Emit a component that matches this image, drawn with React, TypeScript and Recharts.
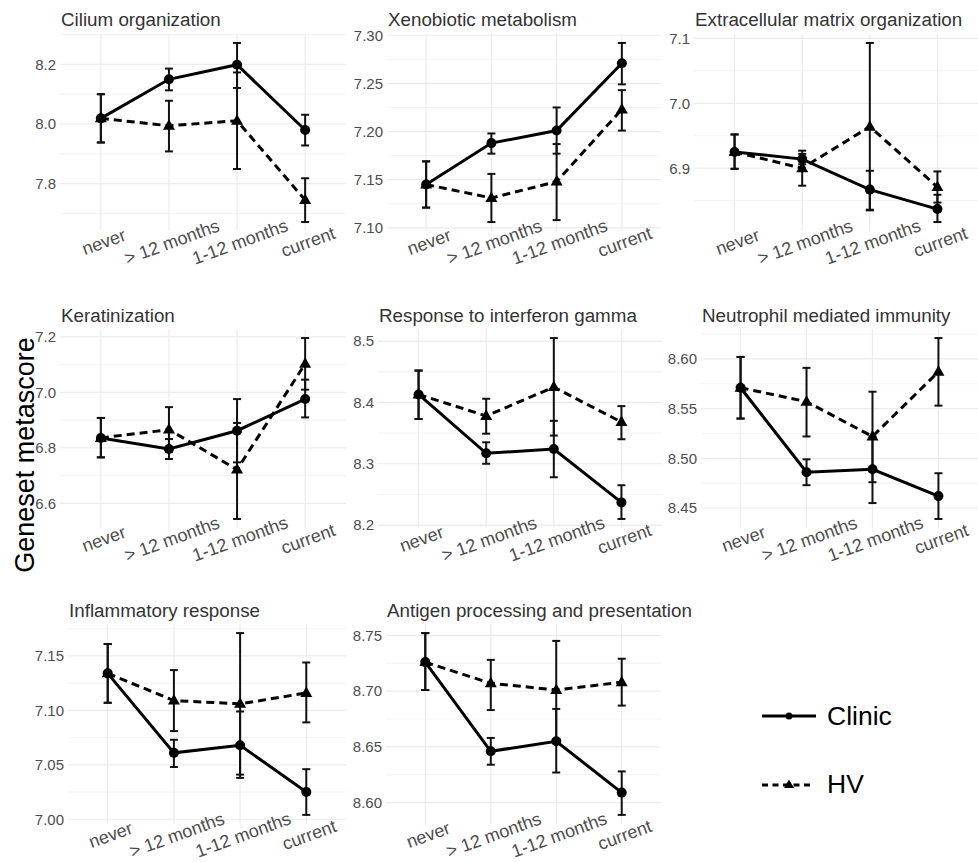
import React from 'react';
import { LineChart, Line, XAxis, YAxis, CartesianGrid, ErrorBar } from 'recharts';

const smokingGroups = ['never', '> 12 months', '1-12 months', 'current'];

// Cilium organization
const ciliumClinic = [8.019, 8.15, 8.199, 7.98];
const ciliumClinicLo = [7.938, 8.113, 8.121, 7.928];
const ciliumClinicHi = [8.1, 8.186, 8.272, 8.031];
const ciliumHV = [8.019, 7.994, 8.011, 7.745];
const ciliumHVLo = [7.938, 7.908, 7.849, 7.671];
const ciliumHVHi = [8.1, 8.078, 8.173, 7.818];
const ciliumTicks = ['7.8', '8.0', '8.2'];

// Xenobiotic metabolism
const xenoClinic = [7.145, 7.188, 7.201, 7.271];
const xenoClinicLo = [7.121, 7.177, 7.177, 7.249];
const xenoClinicHi = [7.169, 7.198, 7.225, 7.292];
const xenoHV = [7.145, 7.131, 7.148, 7.223];
const xenoHVLo = [7.121, 7.106, 7.108, 7.201];
const xenoHVHi = [7.169, 7.156, 7.187, 7.243];
const xenoTicks = ['7.10', '7.15', '7.20', '7.25', '7.30'];

// Extracellular matrix organization
const ecmClinic = [6.925, 6.914, 6.867, 6.837];
const ecmClinicLo = [6.899, 6.906, 6.836, 6.817];
const ecmClinicHi = [6.952, 6.922, 6.896, 6.859];
const ecmHV = [6.925, 6.9, 6.964, 6.871];
const ecmHVLo = [6.899, 6.873, 6.835, 6.847];
const ecmHVHi = [6.952, 6.927, 7.093, 6.895];
const ecmTicks = ['6.9', '7.0', '7.1'];

// Keratinization
const keratClinic = [6.836, 6.796, 6.862, 6.976];
const keratClinicLo = [6.766, 6.76, 6.748, 6.91];
const keratClinicHi = [6.908, 6.832, 6.976, 7.046];
const keratHV = [6.836, 6.866, 6.722, 7.103];
const keratHVLo = [6.766, 6.785, 6.544, 7.01];
const keratHVHi = [6.908, 6.947, 6.89, 7.196];
const keratTicks = ['6.6', '6.8', '7.0', '7.2'];

// Response to interferon gamma
const ifngClinic = [8.413, 8.317, 8.324, 8.237];
const ifngClinicLo = [8.373, 8.3, 8.278, 8.21];
const ifngClinicHi = [8.452, 8.335, 8.37, 8.265];
const ifngHV = [8.413, 8.378, 8.425, 8.368];
const ifngHVLo = [8.373, 8.349, 8.346, 8.34];
const ifngHVHi = [8.452, 8.406, 8.505, 8.394];
const ifngTicks = ['8.2', '8.3', '8.4', '8.5'];

// Neutrophil mediated immunity
const neutClinic = [8.571, 8.486, 8.489, 8.462];
const neutClinicLo = [8.54, 8.473, 8.455, 8.439];
const neutClinicHi = [8.602, 8.499, 8.522, 8.485];
const neutHV = [8.571, 8.557, 8.522, 8.587];
const neutHVLo = [8.54, 8.522, 8.476, 8.553];
const neutHVHi = [8.602, 8.591, 8.567, 8.621];
const neutTicks = ['8.45', '8.50', '8.55', '8.60'];

// Inflammatory response
const inflamClinic = [7.134, 7.061, 7.068, 7.025];
const inflamClinicLo = [7.107, 7.048, 7.038, 7.004];
const inflamClinicHi = [7.161, 7.073, 7.099, 7.046];
const inflamHV = [7.134, 7.109, 7.106, 7.116];
const inflamHVLo = [7.107, 7.081, 7.041, 7.089];
const inflamHVHi = [7.161, 7.137, 7.171, 7.144];
const inflamTicks = ['7.00', '7.05', '7.10', '7.15'];

// Antigen processing and presentation
const antigenClinic = [8.726, 8.646, 8.655, 8.609];
const antigenClinicLo = [8.701, 8.634, 8.627, 8.589];
const antigenClinicHi = [8.752, 8.658, 8.684, 8.628];
const antigenHV = [8.726, 8.707, 8.701, 8.708];
const antigenHVLo = [8.701, 8.683, 8.657, 8.687];
const antigenHVHi = [8.752, 8.728, 8.745, 8.729];
const antigenTicks = ['8.60', '8.65', '8.70', '8.75'];

const FONT = '"Liberation Sans", Arial, Helvetica, sans-serif';
const TITLE_COLOR = '#333333';
const TICK_COLOR = '#4d4d4d';
const GRID_MAJOR = '#ebebeb';
const GRID_MINOR = '#f2f2f2';

// plot rows: top/bottom of the panel area and title baseline
const ROWS = [
  { top: 34, bottom: 231, titleY: 26 },
  { top: 329, bottom: 528, titleY: 322 },
  { top: 624, bottom: 824, titleY: 617 },
];

interface PanelSpec {
  title: string;
  clinic: number[];
  clinicLo: number[];
  clinicHi: number[];
  hv: number[];
  hvLo: number[];
  hvHi: number[];
  tickLabels: string[];
  row: number;
  left: number;
  right: number;
}

const panels: PanelSpec[] = [
  { title: 'Cilium organization', clinic: ciliumClinic, clinicLo: ciliumClinicLo, clinicHi: ciliumClinicHi, hv: ciliumHV, hvLo: ciliumHVLo, hvHi: ciliumHVHi, tickLabels: ciliumTicks, row: 0, left: 60, right: 346 },
  { title: 'Xenobiotic metabolism', clinic: xenoClinic, clinicLo: xenoClinicLo, clinicHi: xenoClinicHi, hv: xenoHV, hvLo: xenoHVLo, hvHi: xenoHVHi, tickLabels: xenoTicks, row: 0, left: 387, right: 661 },
  { title: 'Extracellular matrix organization', clinic: ecmClinic, clinicLo: ecmClinicLo, clinicHi: ecmClinicHi, hv: ecmHV, hvLo: ecmHVLo, hvHi: ecmHVHi, tickLabels: ecmTicks, row: 0, left: 694, right: 978 },
  { title: 'Keratinization', clinic: keratClinic, clinicLo: keratClinicLo, clinicHi: keratClinicHi, hv: keratHV, hvLo: keratHVLo, hvHi: keratHVHi, tickLabels: keratTicks, row: 1, left: 60, right: 346 },
  { title: 'Response to interferon gamma', clinic: ifngClinic, clinicLo: ifngClinicLo, clinicHi: ifngClinicHi, hv: ifngHV, hvLo: ifngHVLo, hvHi: ifngHVHi, tickLabels: ifngTicks, row: 1, left: 378, right: 662 },
  { title: 'Neutrophil mediated immunity', clinic: neutClinic, clinicLo: neutClinicLo, clinicHi: neutClinicHi, hv: neutHV, hvLo: neutHVLo, hvHi: neutHVHi, tickLabels: neutTicks, row: 1, left: 701, right: 978 },
  { title: 'Inflammatory response', clinic: inflamClinic, clinicLo: inflamClinicLo, clinicHi: inflamClinicHi, hv: inflamHV, hvLo: inflamHVLo, hvHi: inflamHVHi, tickLabels: inflamTicks, row: 2, left: 68, right: 346 },
  { title: 'Antigen processing and presentation', clinic: antigenClinic, clinicLo: antigenClinicLo, clinicHi: antigenClinicHi, hv: antigenHV, hvLo: antigenHVLo, hvHi: antigenHVHi, tickLabels: antigenTicks, row: 2, left: 386, right: 661 },
];

const Y_AXIS_W = 50;
const TOP_SPACE = 10;
const X_AXIS_H = 38;

const GroupTick = (props: any) => {
  const { x, y, payload } = props;
  const cx = x + 3;
  const cy = y + 11;
  return (
    <text
      x={cx}
      y={cy}
      textAnchor="middle"
      dominantBaseline="central"
      transform={`rotate(-20 ${cx} ${cy})`}
      fontSize={18}
      fill={TICK_COLOR}
    >
      {payload.value}
    </text>
  );
};

const TriangleDot = (props: any) => {
  const { cx, cy, index } = props;
  if (cx == null || cy == null) return <g key={index} />;
  return <path key={index} d={`M${cx},${cy - 6.5}L${cx + 6},${cy + 4}L${cx - 6},${cy + 4}Z`} fill="#000" />;
};

const Panel = ({ spec }: { spec: PanelSpec }) => {
  const row = ROWS[spec.row];
  const plotW = spec.right - spec.left;
  const plotH = row.bottom - row.top;

  const data = smokingGroups.map((group, i) => ({
    group,
    clinic: spec.clinic[i],
    clinicErr: [spec.clinic[i] - spec.clinicLo[i], spec.clinicHi[i] - spec.clinic[i]],
    hv: spec.hv[i],
    hvErr: [spec.hv[i] - spec.hvLo[i], spec.hvHi[i] - spec.hv[i]],
  }));

  // ggplot-style 5% expansion around the error bar range
  const lo = Math.min(...spec.clinicLo, ...spec.hvLo);
  const hi = Math.max(...spec.clinicHi, ...spec.hvHi);
  const pad = (hi - lo) * 0.05;
  const domain: [number, number] = [lo - pad, hi + pad];

  const majors = spec.tickLabels.map(Number);
  const step = majors[1] - majors[0];
  const minors: number[] = [];
  for (let v = majors[0] - step * 1.5; v <= domain[1]; v += step) {
    if (v >= domain[0]) minors.push(v);
  }

  // discrete axis: 0.6 of a category step on each side
  const xPad = (plotW * 0.6) / 4.2;

  return (
    <div style={{ position: 'absolute', left: spec.left - Y_AXIS_W, top: row.top - TOP_SPACE }}>
      <LineChart
        width={plotW + Y_AXIS_W}
        height={plotH + TOP_SPACE + X_AXIS_H}
        data={data}
        margin={{ top: TOP_SPACE, right: 0, bottom: 0, left: 0 }}
        style={{ overflow: 'visible' }}
      >
        <CartesianGrid horizontalValues={minors} vertical={false} syncWithTicks stroke={GRID_MINOR} strokeWidth={1} />
        <CartesianGrid horizontalValues={majors} syncWithTicks stroke={GRID_MAJOR} strokeWidth={1.2} />
        <XAxis
          dataKey="group"
          height={X_AXIS_H}
          axisLine={false}
          tickLine={false}
          tickSize={0}
          tickMargin={0}
          interval={0}
          padding={{ left: xPad, right: xPad }}
          tick={<GroupTick />}
        />
        <YAxis
          type="number"
          width={Y_AXIS_W}
          domain={domain}
          ticks={majors}
          allowDataOverflow
          axisLine={false}
          tickLine={false}
          tickSize={0}
          tickMargin={4}
          tick={{ fill: TICK_COLOR, fontSize: 15 }}
          tickFormatter={(v: number) => spec.tickLabels[majors.indexOf(v)] ?? ''}
        />
        <Line
          dataKey="clinic"
          stroke="#000"
          strokeWidth={3}
          dot={{ r: 5, fill: '#000', stroke: 'none' }}
          activeDot={false}
          isAnimationActive={false}
        >
          <ErrorBar dataKey="clinicErr" width={4} stroke="#111" strokeWidth={2} />
        </Line>
        <Line
          dataKey="hv"
          stroke="#000"
          strokeWidth={3}
          strokeDasharray="8 5"
          dot={<TriangleDot />}
          activeDot={false}
          isAnimationActive={false}
        >
          <ErrorBar dataKey="hvErr" width={4} stroke="#111" strokeWidth={2} />
        </Line>
      </LineChart>
    </div>
  );
};

export default function App() {
  return (
    <div
      style={{
        position: 'absolute',
        left: 0,
        top: 0,
        width: 978,
        height: 862,
        background: '#fff',
        overflow: 'hidden',
        fontFamily: FONT,
      }}
    >
      {panels.map((p) => (
        <Panel key={p.title} spec={p} />
      ))}
      <svg
        width={978}
        height={862}
        style={{ position: 'absolute', left: 0, top: 0, pointerEvents: 'none', fontFamily: FONT }}
      >
        {panels.map((p) => (
          <text key={p.title} x={p.left + 1} y={ROWS[p.row].titleY} fontSize={18.8} fill={TITLE_COLOR}>
            {p.title}
          </text>
        ))}
        <text
          x={25}
          y={455}
          textAnchor="middle"
          dominantBaseline="central"
          transform="rotate(-90 25 455)"
          fontSize={27}
          fill="#000"
        >
          Geneset metascore
        </text>
        {/* legend */}
        <line x1={762} y1={716} x2={816} y2={716} stroke="#000" strokeWidth={3} />
        <circle cx={789} cy={716} r={3.5} fill="#000" />
        <text x={827} y={725} fontSize={26.5} fill="#000">Clinic</text>
        <line x1={762} y1={785} x2={810} y2={785} stroke="#000" strokeWidth={3} strokeDasharray="6 4.5" />
        <path d="M789,779.5L794,788L784,788Z" fill="#000" />
        <text x={827} y={793} fontSize={26.5} fill="#000">HV</text>
      </svg>
    </div>
  );
}
